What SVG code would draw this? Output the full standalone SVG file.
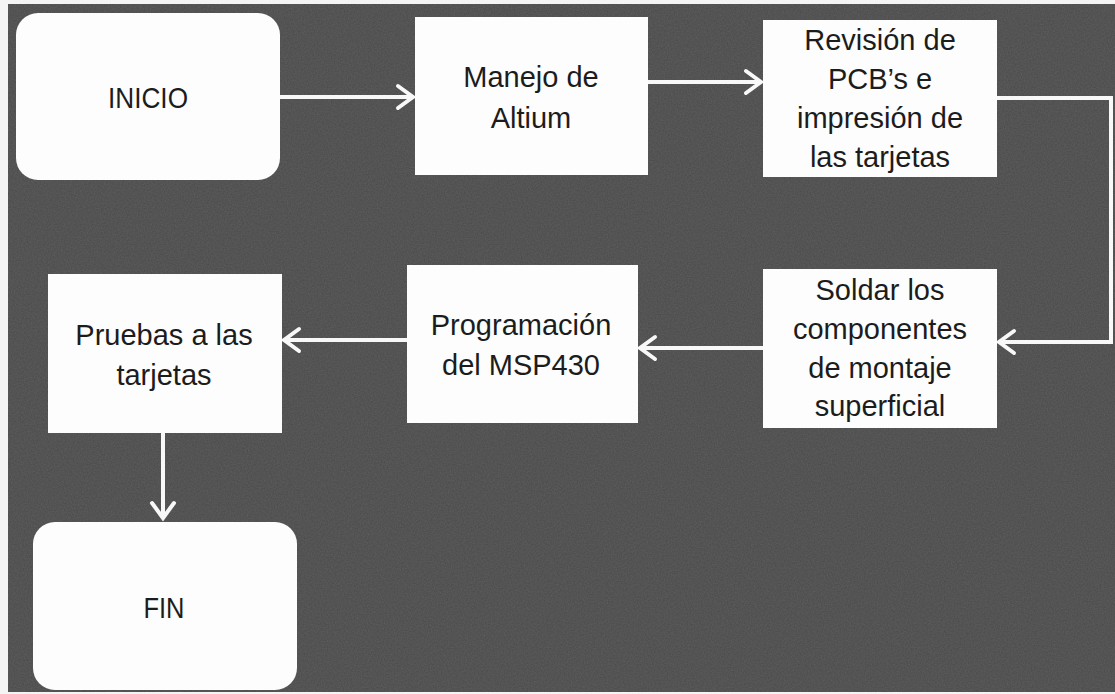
<svg xmlns="http://www.w3.org/2000/svg" width="1115" height="694" viewBox="0 0 1115 694">
  <style>
    .box { fill: #fdfdfd; }
    .lbl { font-family: "Liberation Sans", Arial, sans-serif; font-size: 29px; fill: #1c1c1c; text-anchor: middle; }
    .conn { fill: none; stroke: #f8f8f8; stroke-width: 4; }
  </style>
  <defs>
    <marker id="arrow" markerUnits="userSpaceOnUse" viewBox="-20 -14 24 28" markerWidth="24" markerHeight="28" refX="-2" refY="0" orient="auto" overflow="visible">
      <path d="M-15,-11 L0,0 L-15,11" fill="none" stroke="#f8f8f8" stroke-width="4" stroke-linecap="round" stroke-linejoin="miter"/>
    </marker>
    <filter id="grain" x="0" y="0" width="100%" height="100%">
      <feTurbulence type="fractalNoise" baseFrequency="0.7" numOctaves="2" seed="3" result="n"/>
      <feColorMatrix type="matrix" values="0 0 0 0 0.5  0 0 0 0 0.5  0 0 0 0 0.5  0 0 0 0.35 0"/>
    </filter>
  </defs>

  <rect x="0" y="0" width="1115" height="694" fill="#f4f4f4"/>
  <rect x="8" y="4" width="1107" height="688" fill="#4a4a4a"/>
  <rect x="8" y="4" width="1107" height="688" filter="url(#grain)" opacity="0.5"/>

  <g id="connectors">
    <path class="conn" d="M280,97 H411" marker-end="url(#arrow)"/>
    <path class="conn" d="M648,82 H759" marker-end="url(#arrow)"/>
    <path class="conn" d="M997,98 H1111 V342 H1001" marker-end="url(#arrow)"/>
    <path class="conn" d="M763,348 H642" marker-end="url(#arrow)"/>
    <path class="conn" d="M407,340 H286" marker-end="url(#arrow)"/>
    <path class="conn" d="M163,433 V516" marker-end="url(#arrow)"/>
  </g>

  <g id="inicio">
    <rect class="box" x="16" y="13" width="264" height="167" rx="22" ry="22"/>
    <text class="lbl" x="148" y="108" font-size="31" textLength="80" lengthAdjust="spacingAndGlyphs">INICIO</text>
  </g>

  <g id="manejo">
    <rect class="box" x="415" y="17" width="233" height="158"/>
    <text class="lbl" x="531" y="87">Manejo de</text>
    <text class="lbl" x="531" y="128">Altium</text>
  </g>

  <g id="revision">
    <rect class="box" x="763" y="20" width="234" height="157"/>
    <text class="lbl" x="880" y="50">Revisión de</text>
    <text class="lbl" x="880" y="89">PCB’s e</text>
    <text class="lbl" x="880" y="128">impresión de</text>
    <text class="lbl" x="880" y="167">las tarjetas</text>
  </g>

  <g id="soldar">
    <rect class="box" x="763" y="269" width="234" height="159"/>
    <text class="lbl" x="880" y="300">Soldar los</text>
    <text class="lbl" x="880" y="339">componentes</text>
    <text class="lbl" x="880" y="378">de montaje</text>
    <text class="lbl" x="880" y="416">superficial</text>
  </g>

  <g id="programacion">
    <rect class="box" x="407" y="265" width="231" height="158"/>
    <text class="lbl" x="521" y="335">Programación</text>
    <text class="lbl" x="521" y="375">del MSP430</text>
  </g>

  <g id="pruebas">
    <rect class="box" x="48" y="274" width="234" height="159"/>
    <text class="lbl" x="164" y="345">Pruebas a las</text>
    <text class="lbl" x="164" y="385">tarjetas</text>
  </g>

  <g id="fin">
    <rect class="box" x="33" y="522" width="264" height="168" rx="22" ry="22"/>
    <text class="lbl" x="164" y="618" font-size="30" textLength="41" lengthAdjust="spacingAndGlyphs">FIN</text>
  </g>
</svg>
